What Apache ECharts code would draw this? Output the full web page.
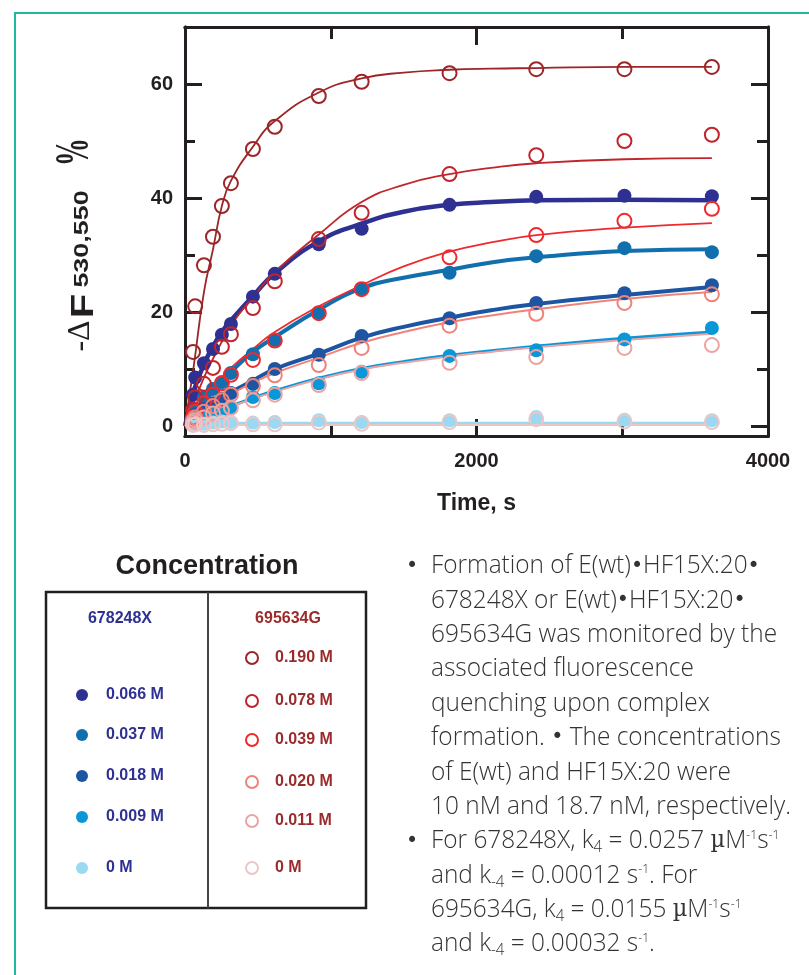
<!DOCTYPE html>
<html><head><meta charset="utf-8">
<script src="https://cdn.jsdelivr.net/npm/echarts@6/dist/echarts.min.js"></script>
<style>html,body{margin:0;padding:0;background:#fff}#c{width:809px;height:975px}</style>
</head><body><div id="c"></div>
<script>
// ---- data ----
const times = [55, 70, 130, 192, 253, 315, 466, 616, 918, 1212, 1815, 2410, 3015, 3615];
const p066 = [5.5, 8.5, 11.0, 13.5, 16.0, 17.9, 22.7, 26.7, 31.9, 34.6, 38.8, 40.2, 40.4, 40.3];
const p037 = [2.0, 3.0, 5.0, 6.5, 7.7, 9.3, 12.6, 15.1, 19.8, 24.0, 26.9, 29.8, 31.2, 30.5];
const p018 = [1.5, 2.0, 3.0, 4.0, 4.8, 5.8, 7.4, 10.0, 12.5, 15.8, 18.9, 21.6, 23.3, 24.7];
const p009 = [0.8, 1.2, 1.8, 2.3, 2.8, 3.3, 5.1, 5.8, 7.5, 9.5, 12.3, 13.3, 15.2, 17.2];
const p000b = [0.3, 0.5, 0.4, 0.6, 0.8, 0.7, 0.6, 0.7, 1.0, 0.7, 1.0, 1.6, 1.1, 1.0];
const p190 = [13.0, 21.0, 28.2, 33.2, 38.6, 42.6, 48.6, 52.5, 57.9, 60.4, 61.9, 62.6, 62.6, 63.0];
const p078 = [2.8, 5.0, 7.4, 10.2, 13.9, 16.1, 20.7, 25.4, 32.8, 37.4, 44.2, 47.5, 50.0, 51.1];
const p039 = [1.5, 2.5, 4.0, 5.5, 7.5, 9.0, 11.6, 15.0, 19.8, 24.0, 29.6, 33.5, 36.0, 38.1];
const p020 = [1.0, 1.5, 2.5, 3.5, 4.5, 5.5, 7.0, 8.9, 10.7, 13.7, 17.6, 19.7, 21.6, 23.1];
const p011 = [0.6, 1.0, 1.5, 2.2, 2.7, 3.2, 4.5, 5.5, 7.2, 9.3, 11.1, 12.1, 13.7, 14.2];
const p000r = [0.2, 0.3, 0.2, 0.3, 0.4, 0.5, 0.3, 0.3, 0.6, 0.4, 0.7, 1.2, 0.8, 0.7];

// fitted curves
const fitT = [0, 30, 60, 130, 192, 253, 315, 466, 616, 918, 1212, 1500, 1815, 2100, 2410, 3015, 3615];
const f190 = [0, 5.3, 10.5, 23.5, 31, 38.6, 43, 49, 53.5, 58.5, 61, 62, 62.5, 62.7, 62.8, 63, 63];
const f078 = [0, 2, 4, 8.5, 11.8, 14.8, 17.7, 22.6, 27.0, 33.6, 39.3, 42.3, 44.2, 45.3, 46.1, 46.8, 47.0];
const f066 = [0, 3.2, 6.2, 10.8, 14, 16.5, 18.5, 22.8, 26.8, 32.4, 35.5, 37.6, 38.8, 39.3, 39.6, 39.7, 39.6];
const f039 = [0, 1, 2, 4.5, 6.5, 8.5, 10.2, 13.5, 16.5, 21, 24.7, 28, 30.6, 32.2, 33.5, 34.8, 35.6];
const f037 = [0, 1, 2, 4.2, 6.1, 7.9, 9.5, 13, 15.6, 20.4, 24.2, 26, 27.4, 28.7, 29.6, 30.7, 31.0];
const f018 = [0, 0.6, 1.3, 2.8, 4.0, 5.0, 5.9, 8.0, 10.0, 12.7, 15.5, 17.4, 19.0, 20.3, 21.4, 23.0, 24.4];
const f020 = [0, 0.6, 1.2, 2.6, 3.7, 4.7, 5.6, 7.6, 9.3, 12.0, 14.6, 16.5, 18.2, 19.4, 20.5, 22.3, 23.5];
const f009 = [0, 0.35, 0.7, 1.5, 2.2, 2.9, 3.5, 4.9, 6.2, 8.4, 10.1, 11.3, 12.4, 13.2, 14.0, 15.4, 16.5];
const f011 = [0, 0.35, 0.7, 1.5, 2.2, 2.8, 3.4, 4.8, 6.0, 8.2, 9.9, 11.1, 12.2, 13.0, 13.8, 15.1, 16.2];
const fitT0 = [0, 3615];
const f000b = [0.5, 0.5];
const f000r = [0.2, 0.2];

const xTickLabels = [0, 2000, 4000];
const yTickLabels = [0, 20, 40, 60];

const groupA = '678248X', groupB = '695634G';
const concA = ['0.066 M', '0.037 M', '0.018 M', '0.009 M', '0 M'];
const concB = ['0.190 M', '0.078 M', '0.039 M', '0.020 M', '0.011 M', '0 M'];

const descLines = [
  'Formation of E(wt){b|•}HF15X:20{b|•}',
  '678248X or E(wt){b|•}HF15X:20{b|•}',
  '695634G was monitored by the',
  'associated fluorescence',
  'quenching upon complex',
  'formation. {b|•} The concentrations',
  'of E(wt) and HF15X:20 were',
  '10 nM and 18.7 nM, respectively.',
  'For 678248X, k{sub|4} = 0.0257 {mu|µ}M{sup|-1}s{sup|-1}',
  'and k{sub|-4} = 0.00012 s{sup|-1}. For',
  '695634G, k{sub|4} = 0.0155 {mu|µ}M{sup|-1}s{sup|-1}',
  'and k{sub|-4} = 0.00032 s{sup|-1}.'
];

// ---- styling ----
const AX = '#231f20';
const SANS = 'Liberation Sans';
const series = [
  {name: groupA + '|' + concA[0], pts: p066, fx: fitT, fy: f066, color: '#2e3192', open: false, lw: 4.5},
  {name: groupA + '|' + concA[1], pts: p037, fx: fitT, fy: f037, color: '#116fae', open: false, lw: 4},
  {name: groupA + '|' + concA[2], pts: p018, fx: fitT, fy: f018, color: '#1d55a2', open: false, lw: 4},
  {name: groupA + '|' + concA[3], pts: p009, fx: fitT, fy: f009, color: '#0a97d8', open: false, lw: 3},
  {name: groupA + '|' + concA[4], pts: p000b, fx: fitT0, fy: f000b, color: '#9bd8f1', open: false, lw: 3},
  {name: groupB + '|' + concB[0], pts: p190, fx: fitT, fy: f190, color: '#9c2527', open: true, lw: 1.8},
  {name: groupB + '|' + concB[1], pts: p078, fx: fitT, fy: f078, color: '#c0252c', open: true, lw: 1.8},
  {name: groupB + '|' + concB[2], pts: p039, fx: fitT, fy: f039, color: '#ee2a2e', open: true, lw: 1.8},
  {name: groupB + '|' + concB[3], pts: p020, fx: fitT, fy: f020, color: '#f08379', open: true, lw: 2},
  {name: groupB + '|' + concB[4], pts: p011, fx: fitT, fy: f011, color: '#eaa4a4', open: true, lw: 2},
  {name: groupB + '|' + concB[5], pts: p000r, fx: fitT0, fy: f000r, color: '#ebc6c6', open: true, lw: 2}
];
// legend layout: [icon centre x, icon centre y]
const legendPos = [[82,695],[82,735],[82,776],[82,817],[82,868],[251,658],[251,701],[251,740],[251,782],[251,821],[251,868]];

const chartSeries = [];
series.forEach((s) => {
  chartSeries.push({
    type: 'line', name: s.name + '_fit', data: s.fx.map((t, j) => [t, s.fy[j]]),
    showSymbol: false, smooth: 0.5, z: 2, silent: true,
    lineStyle: {color: s.color, width: s.lw}, itemStyle: {color: s.color}
  });
});
series.forEach((s) => {
  chartSeries.push({
    type: 'scatter', name: s.name, data: times.map((t, j) => [t, s.pts[j]]),
    symbol: 'circle', symbolSize: 14, z: s.open ? 4 : 3,
    itemStyle: s.open ? {color: 'rgba(0,0,0,0)', borderColor: s.color, borderWidth: 2, opacity: 1} : {color: s.color, borderWidth: 0, opacity: 1}
  });
});

const legends = series.map((s, i) => {
  const [cx, cy] = legendPos[i];
  const textStart = s.open ? 274 : 106;
  return {
    data: [s.name], left: cx - 6, top: cy - 8, padding: 0, itemWidth: 12, itemHeight: 12,
    icon: 'circle', selectedMode: false,
    itemStyle: s.open ? {color: 'rgba(0,0,0,0)', borderColor: s.color, borderWidth: 2, opacity: 1} : {color: s.color, borderWidth: 0, opacity: 1},
    formatter: n => n.split('|')[1],
    textStyle: {fontFamily: SANS, fontWeight: 'bold', fontSize: 16, lineHeight: 16,
      color: s.open ? '#9b2b2b' : '#2e3192', padding: [0, 0, 0, textStart - (cx + 6) - 5]}
  };
});

function yAx(pos, ticks, len, labels) {
  return {type: 'value', min: -1.75, max: 70, position: pos,
    axisLine: {show: true, onZero: false, lineStyle: {color: AX, width: 3}},
    axisTick: {show: true, inside: true, length: len, customValues: ticks, lineStyle: {color: AX, width: 3}},
    axisLabel: labels ? {show: true, customValues: labels, formatter: v => String(v), fontFamily: SANS, fontWeight: 'bold', fontSize: 20, color: AX, margin: 12} : {show: false},
    splitLine: {show: false}};
}
function xAx(pos, ticks, len, labels) {
  const a = {type: 'value', min: 0, max: 4000, position: pos,
    axisLine: {show: true, onZero: false, lineStyle: {color: AX, width: 3}},
    axisTick: {show: true, inside: true, length: len, customValues: ticks, lineStyle: {color: AX, width: 3}},
    axisLabel: labels ? {show: true, customValues: labels, formatter: v => String(v), fontFamily: SANS, fontWeight: 'bold', fontSize: 20, color: AX, margin: 15} : {show: false},
    splitLine: {show: false}};
  if (labels) {
    a.name = 'Time, s'; a.nameLocation = 'middle'; a.nameGap = 56;
    a.nameTextStyle = {fontFamily: SANS, fontWeight: 'bold', fontSize: 23, color: AX};
  }
  return a;
}

// description text
const DESC_FONT = 'Open Sans';
const ctx = document.createElement('canvas').getContext('2d');
ctx.font = '300 26px "' + DESC_FONT + '"';
const sx = 360 / ctx.measureText('10 nM and 18.7 nM, respectively.').width;
const TXT = '#333333';
const baseTok = {fontFamily: DESC_FONT, fontWeight: 300, fontSize: 26, lineHeight: 34, fill: TXT};
const rich = {
  sub: {fontFamily: DESC_FONT, fontWeight: 300, fontSize: 16, lineHeight: 16, verticalAlign: 'bottom', padding: [0, 0, 2, 0], fill: TXT},
  sup: {fontFamily: DESC_FONT, fontWeight: 300, fontSize: 13, lineHeight: 13, verticalAlign: 'top', padding: [5, 0, 0, 0], fill: TXT},
  mu: {fontFamily: 'DejaVu Serif', fontWeight: 'normal', fontSize: 24, lineHeight: 34, fill: TXT},
  b: {fontFamily: 'DejaVu Sans', fontWeight: 'normal', fontSize: 22, lineHeight: 34, fill: TXT}
};
const graphics = [
  {type: 'rect', shape: {x: 15, y: 13, width: 820, height: 990}, style: {fill: 'none', stroke: '#22b8a0', lineWidth: 2}, silent: true},
  // y-axis title
  {type: 'text', x: 81, y: 336, rotation: Math.PI / 2, style: {text: '-Δ', fontFamily: 'Liberation Serif', fontSize: 32, fill: AX, align: 'center', verticalAlign: 'middle'}},
  {type: 'text', x: 84, y: 306, rotation: Math.PI / 2, scaleX: 1.25, style: {text: 'F', fontFamily: SANS, fontWeight: 'bold', fontSize: 32, fill: AX, align: 'center', verticalAlign: 'middle'}},
  {type: 'text', x: 82, y: 239, rotation: Math.PI / 2, scaleX: 1.28, style: {text: '530,550', fontFamily: SANS, fontWeight: 'bold', fontSize: 21, fill: AX, align: 'center', verticalAlign: 'middle'}},
  {type: 'text', x: 76, y: 152, rotation: Math.PI / 2, scaleX: 0.58, style: {text: '%', fontFamily: 'Liberation Serif', fontWeight: 'bold', fontSize: 48, fill: AX, align: 'center', verticalAlign: 'middle'}},
  // legend box
  {type: 'text', x: 207, y: 567, style: {text: 'Concentration', fontFamily: SANS, fontWeight: 'bold', fontSize: 27, fill: AX, align: 'center', verticalAlign: 'middle'}},
  {type: 'rect', shape: {x: 46, y: 592, width: 320, height: 316}, style: {fill: 'none', stroke: AX, lineWidth: 2.5}},
  {type: 'line', shape: {x1: 208, y1: 592, x2: 208, y2: 908}, style: {stroke: '#444', lineWidth: 2}},
  {type: 'text', x: 120, y: 619, style: {text: groupA, fontFamily: SANS, fontWeight: 'bold', fontSize: 16, fill: '#2e3192', align: 'center', verticalAlign: 'middle'}},
  {type: 'text', x: 288, y: 619, style: {text: groupB, fontFamily: SANS, fontWeight: 'bold', fontSize: 16, fill: '#9b2b2b', align: 'center', verticalAlign: 'middle'}}
];
descLines.forEach((ln, i) => {
  const cy = 566 + 34.35 * i;
  graphics.push({type: 'text', x: 431, y: cy, scaleX: sx,
    style: Object.assign({text: ln, rich: rich, align: 'left', verticalAlign: 'middle'}, baseTok)});
  if (i === 0 || i === 8) {
    graphics.push({type: 'text', x: 406, y: cy, scaleX: sx,
      style: Object.assign({text: '{b|•}', rich: rich, align: 'left', verticalAlign: 'middle'}, baseTok)});
  }
});

const chart = echarts.init(document.getElementById('c'), null, {renderer: 'canvas'});
chart.setOption({
  animation: false,
  backgroundColor: '#fff',
  grid: {left: 185, right: 41, top: 27, bottom: 539, containLabel: false},
  xAxis: [xAx('bottom', [2000], 17, xTickLabels), xAx('bottom', [1000, 3000], 10, null),
          xAx('top', [2000], 18, null), xAx('top', [1000, 3000], 12, null)],
  yAxis: [yAx('left', [0, 20, 40, 60], 17, yTickLabels), yAx('left', [10, 30, 50], 10, null),
          yAx('right', [0, 20, 40, 60], 17, null), yAx('right', [10, 30, 50], 11, null)],
  legend: legends,
  series: chartSeries,
  graphic: graphics
});
</script></body></html>
